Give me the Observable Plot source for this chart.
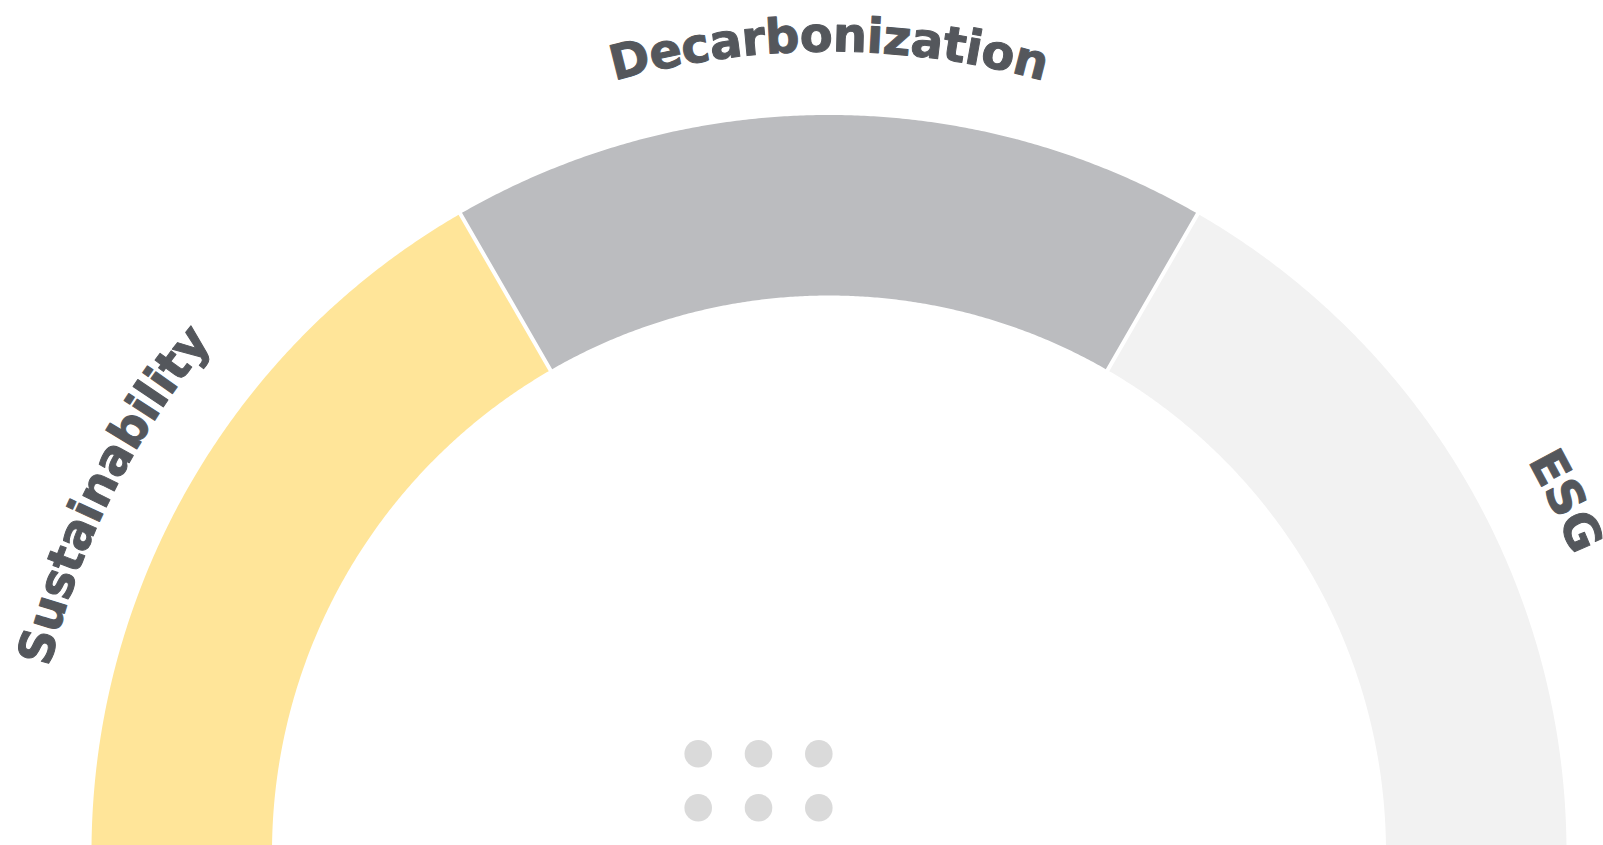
<!DOCTYPE html>
<html><head><meta charset="utf-8">
<script src="https://cdn.jsdelivr.net/npm/d3@7"></script>
<script src="https://cdn.jsdelivr.net/npm/@observablehq/plot@0.6"></script>
<style>html,body{margin:0;padding:0;background:#fff;overflow:hidden}</style>
</head><body><div id="chart"></div>
<script>
// ---- data ----
const categories = ["Sustainability", "Decarbonization", "ESG"];
const startDeg = [187, 120, 60];
const endDeg = [120, 60, -9];
const dotCols = [0, 1, 2];
const dotRows = [0, 1];

// ---- layout ----
const W = 1603, H = 845, CX = 828.5, CY = 852;
const R_OUT = 737.5, R_IN = 557, R_LABEL = 801, GAP = 2;
const colors = ["#FFE599", "#BBBCBF", "#F2F2F2"];
const FONT_SIZE = 48, FONT_FAMILY = "DejaVu Sans", LETTER_SPACING = -0.5;
const rad = d => d * Math.PI / 180;

const poly = [];
categories.forEach((c, i) => {
  const a0 = rad(startDeg[i]), a1 = rad(endDeg[i]);
  const n = Math.ceil(Math.abs(startDeg[i] - endDeg[i]) * 4);
  const pts = [];
  const arc = (r, k) => {
    const p = Math.asin(GAP / r);
    const a = (a0 - p) + ((a1 + p) - (a0 - p)) * k / n;
    return [r * Math.cos(a), r * Math.sin(a)];
  };
  for (let k = 0; k <= n; k++) pts.push(arc(R_OUT, k));
  for (let k = n; k >= 0; k--) pts.push(arc(R_IN, k));
  pts.push(pts[0]);
  pts.forEach(([x, y]) => poly.push({cat: c, x, y}));
});

const ctx = document.createElement("canvas").getContext("2d");
ctx.font = `bold ${FONT_SIZE}px "${FONT_FAMILY}"`;
const chars = [];
categories.forEach((c, i) => {
  const mid = (startDeg[i] + endDeg[i]) / 2;
  const ws = [...c].map(ch => ctx.measureText(ch).width + LETTER_SPACING);
  const total = d3.sum(ws);
  let s = 0;
  [...c].forEach((ch, j) => {
    const off = s + ws[j] / 2 - total / 2;
    const a = rad(mid) - off / R_LABEL;
    chars.push({ch, x: R_LABEL * Math.cos(a), y: R_LABEL * Math.sin(a), rot: 90 - a * 180 / Math.PI});
    s += ws[j];
  });
});

const dots = [];
dotRows.forEach(r => dotCols.forEach(c => dots.push({x: -130.8 + c * 60.3, y: 98.7 - r * 54})));

const chart = Plot.plot({
  width: W, height: H, margin: 0,
  x: {domain: [-CX, W - CX], range: [0, W], axis: null},
  y: {domain: [CY - H, CY], range: [H, 0], axis: null},
  color: {domain: categories, range: colors},
  style: {background: "#fff", overflow: "hidden"},
  marks: [
    Plot.line(poly, {x: "x", y: "y", z: "cat", fill: "cat", stroke: "none", clip: true, curve: "linear"}),
    Plot.dot(dots, {x: "x", y: "y", r: 13.8, fill: "#DADADA"}),
    Plot.text(chars, {x: "x", y: "y", text: "ch", rotate: "rot", fontSize: FONT_SIZE, fontWeight: "bold",
      fontFamily: FONT_FAMILY, fill: "#54575C", stroke: "#54575C", strokeWidth: 1,
      textAnchor: "middle", lineAnchor: "bottom"})
  ]
});
document.getElementById("chart").appendChild(chart);
</script></body></html>
